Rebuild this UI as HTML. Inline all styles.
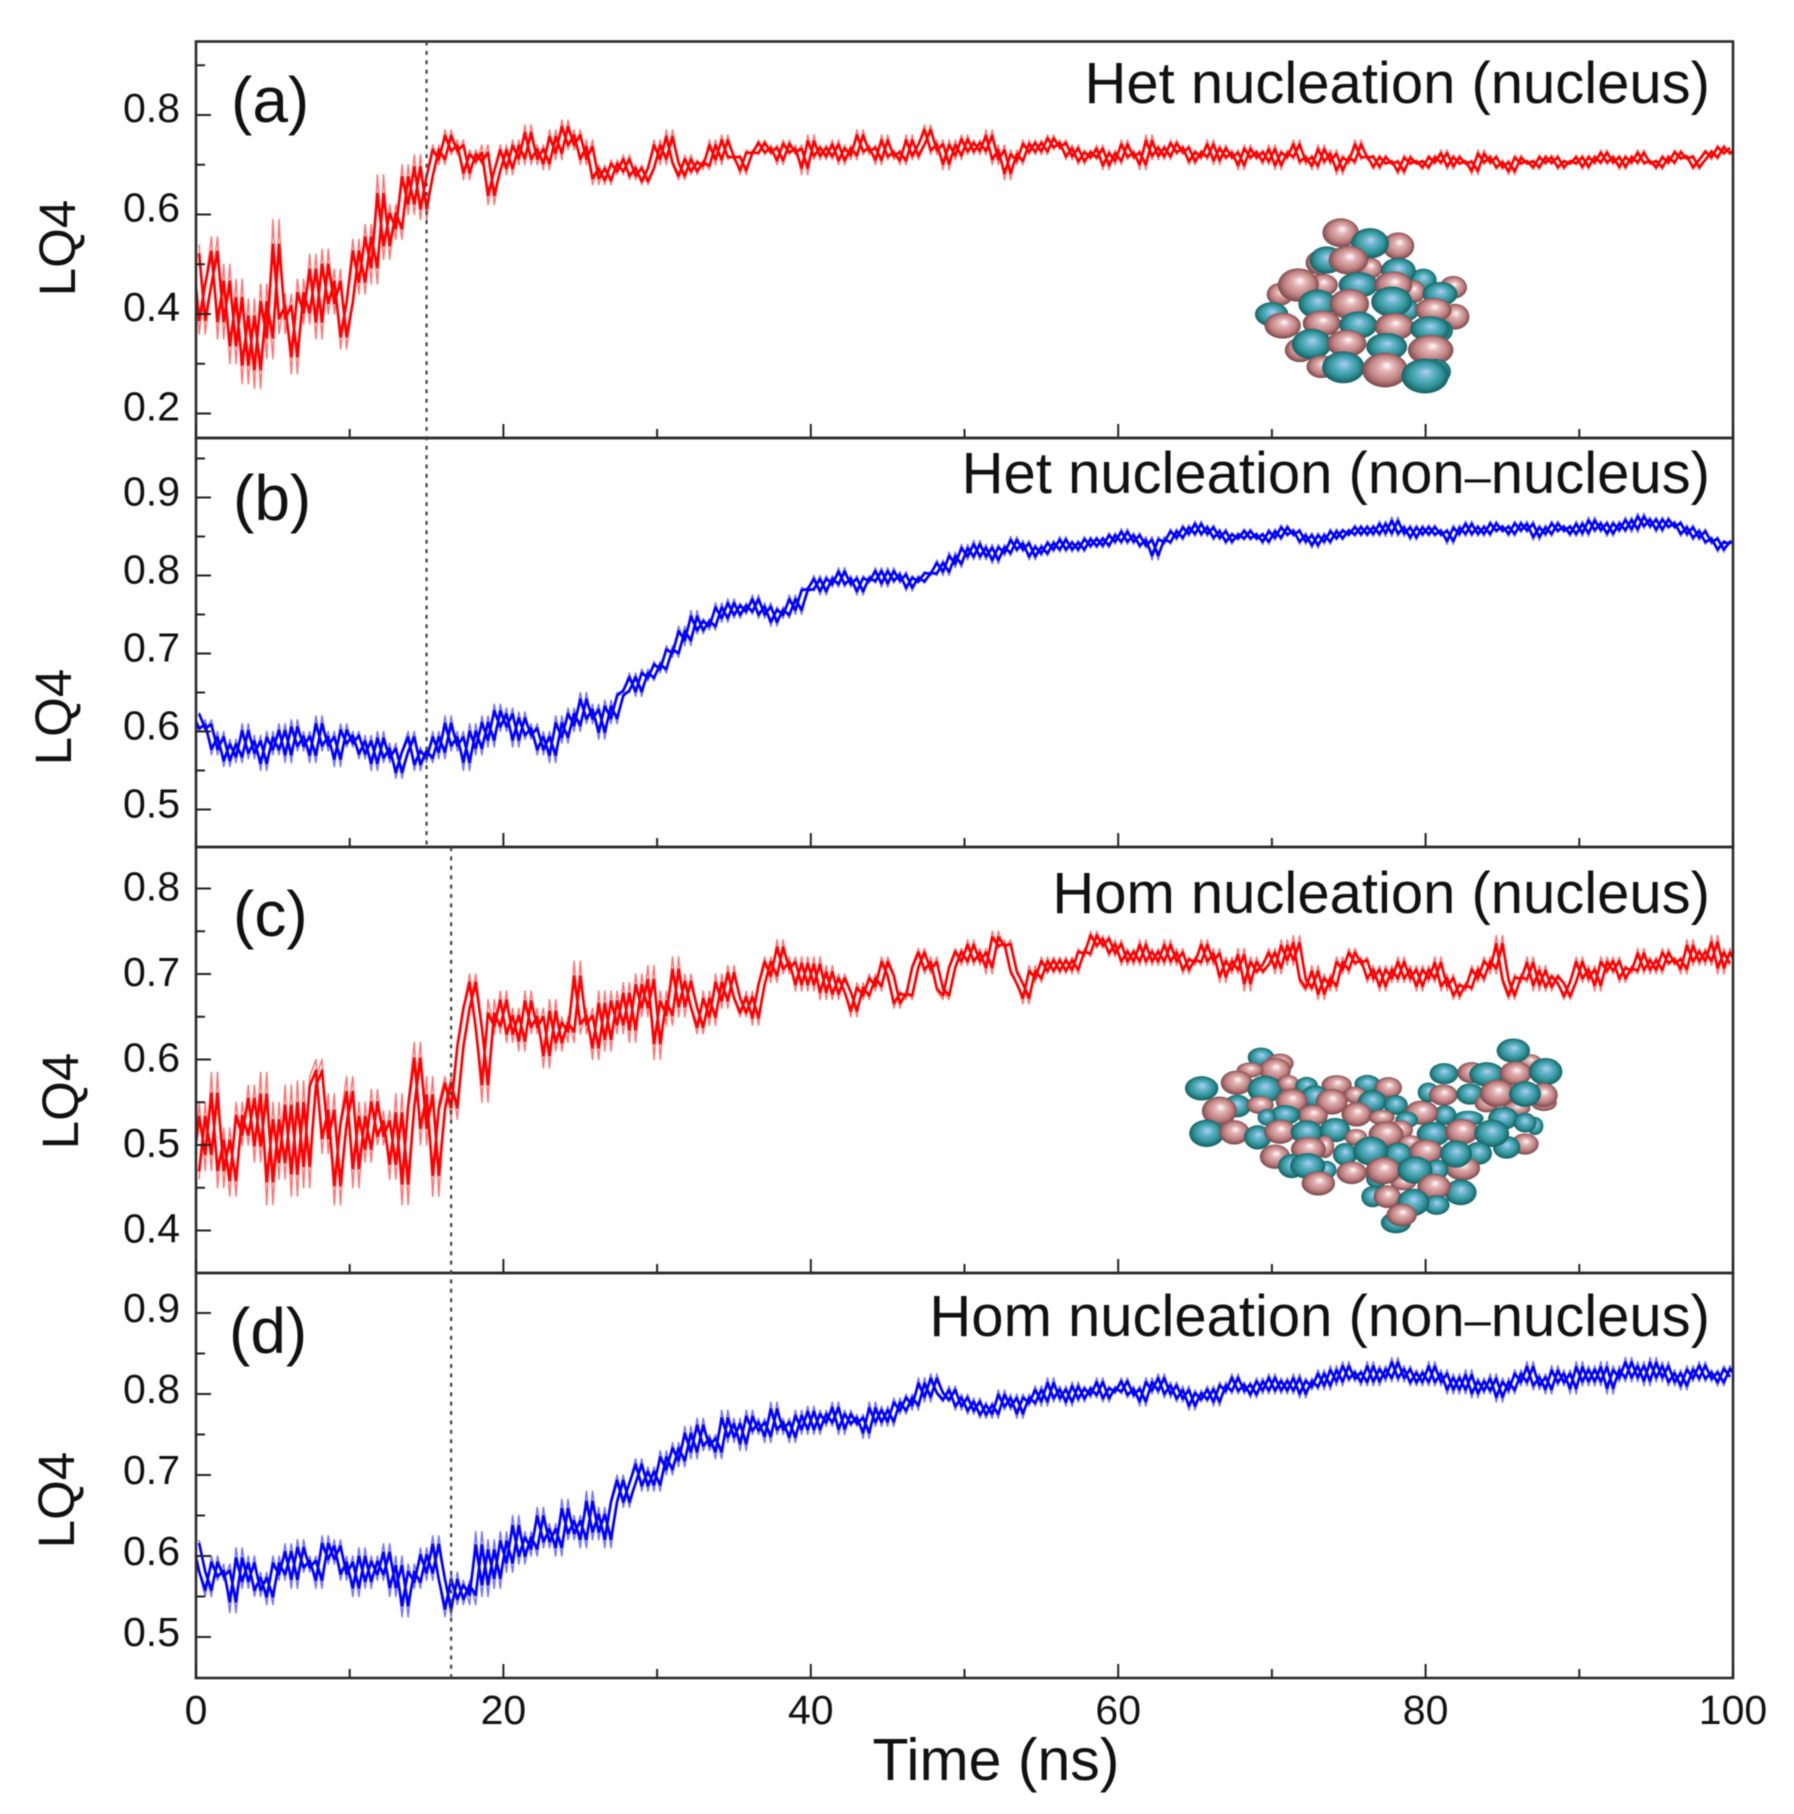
<!DOCTYPE html>
<html lang="en">
<head>
<meta charset="utf-8">
<title>LQ4 vs Time</title>
<style>
html,body{margin:0;padding:0;background:#fff;width:1794px;height:1814px;overflow:hidden}
svg{display:block;filter:blur(.45px)}
text{font-family:"Liberation Sans",Arial,sans-serif;fill:#111}
</style>
</head>
<body>
<svg id="chart" xmlns="http://www.w3.org/2000/svg" width="1794" height="1814" viewBox="0 0 1794 1814">
<defs>
<radialGradient id="teal-ball" cx="50%" cy="50%" r="55%" fx="52%" fy="38%">
<stop offset="0" stop-color="#b4cdf5"/><stop offset=".3" stop-color="#63b4c8"/><stop offset=".65" stop-color="#2f9297"/><stop offset="1" stop-color="#0d4f52"/>
</radialGradient>
<radialGradient id="pink-ball" cx="50%" cy="50%" r="55%" fx="55%" fy="36%">
<stop offset="0" stop-color="#ffffff"/><stop offset=".28" stop-color="#e2b4b4"/><stop offset=".65" stop-color="#bf7f80"/><stop offset="1" stop-color="#64393b"/>
</radialGradient>
</defs>
</svg>
<script>
// ---------- data ----------
const hetNucleusValues = [
.54,.36,.46,.555,.35,.50,.30,.47,.26,.43,.25,.46,.31,.59,.36,.44,.28,.47,.38,.52,.35,.53,.40,.49,.33,
.42,.55,.44,.58,.46,.68,.51,.62,.55,.70,.60,.72,.59,.68,.74,.70,.77,.72,.75,.67,.73,.70,.74,.62,.69,
.74,.68,.75,.70,.78,.70,.74,.69,.77,.71,.79,.73,.77,.70,.75,.66,.70,.66,.71,.68,.72,.67,.70,.66,.69,
.75,.70,.77,.70,.67,.72,.68,.71,.69,.75,.70,.76,.71,.72,.68,.73,.72,.75,.72,.74,.70,.75,.72,.74,.68,
.76,.71,.74,.71,.75,.70,.74,.71,.77,.72,.74,.70,.76,.71,.73,.70,.76,.71,.74,.78,.72,.75,.69,.75,.71,
.76,.72,.75,.72,.77,.70,.74,.67,.73,.70,.75,.72,.75,.72,.76,.73,.75,.71,.74,.70,.73,.71,.74,.69,.73,
.70,.75,.71,.73,.69,.76,.71,.74,.71,.75,.72,.74,.70,.73,.71,.75,.70,.74,.71,.73,.69,.74,.71,.73,.70,
.74,.69,.73,.71,.75,.70,.72,.69,.74,.70,.73,.68,.72,.70,.75,.71,.72,.69,.72,.70,.71,.68,.72,.70,.71,
.69,.72,.70,.73,.69,.72,.70,.71,.68,.73,.70,.72,.69,.71,.68,.72,.70,.71,.69,.72,.70,.72,.69,.71,.70,
.72,.69,.72,.70,.73,.70,.72,.69,.72,.70,.73,.70,.71,.69,.72,.70,.73,.71,.72,.69,.71,.73,.71,.74,.72,.735];
const hetNonNucleusValues = [
.625,.60,.615,.57,.60,.555,.59,.56,.61,.565,.595,.55,.60,.57,.61,.56,.615,.575,.60,.56,.62,.575,.60,.555,.61,
.58,.60,.565,.595,.55,.60,.56,.585,.54,.575,.60,.55,.58,.56,.60,.565,.62,.575,.60,.55,.61,.57,.62,.58,.635,
.60,.63,.58,.625,.59,.61,.57,.60,.56,.62,.585,.63,.60,.65,.61,.635,.59,.64,.61,.65,.65,.675,.645,.68,.665,
.69,.675,.71,.695,.735,.71,.755,.725,.745,.73,.765,.74,.77,.745,.765,.75,.775,.745,.765,.735,.76,.745,.775,.75,.785,
.78,.80,.775,.80,.785,.81,.785,.80,.775,.80,.79,.81,.785,.81,.79,.805,.78,.80,.79,.805,.80,.82,.80,.83,.81,
.84,.82,.845,.82,.84,.815,.84,.825,.85,.83,.845,.82,.84,.825,.845,.83,.85,.83,.845,.83,.85,.835,.85,.835,.855,
.84,.86,.84,.855,.835,.85,.82,.85,.84,.86,.845,.865,.85,.87,.85,.865,.845,.86,.84,.855,.845,.86,.845,.855,.84,
.86,.845,.865,.85,.86,.84,.855,.835,.855,.84,.86,.845,.86,.85,.865,.85,.865,.85,.87,.85,.875,.85,.865,.845,.865,
.85,.865,.85,.86,.84,.865,.85,.87,.85,.865,.85,.87,.855,.865,.85,.87,.855,.87,.845,.865,.85,.87,.855,.865,.85,
.87,.85,.875,.855,.87,.85,.87,.855,.875,.855,.88,.86,.875,.855,.875,.86,.87,.85,.865,.845,.86,.84,.85,.83,.845,.84];
const homNucleusValues = [
.46,.55,.47,.585,.45,.52,.44,.55,.50,.57,.48,.585,.43,.55,.46,.57,.44,.575,.45,.58,.60,.49,.56,.43,.53,
.58,.45,.55,.48,.565,.50,.54,.46,.56,.43,.55,.62,.50,.58,.44,.55,.58,.53,.62,.66,.70,.64,.55,.67,.63,
.68,.62,.66,.61,.68,.63,.66,.59,.67,.61,.65,.62,.715,.63,.66,.60,.68,.61,.68,.63,.69,.62,.70,.65,.71,
.60,.68,.64,.72,.65,.70,.66,.63,.68,.64,.70,.66,.71,.67,.65,.68,.64,.69,.72,.69,.74,.70,.72,.68,.72,
.68,.72,.67,.71,.67,.70,.68,.65,.69,.67,.70,.68,.72,.70,.66,.68,.67,.71,.73,.70,.72,.68,.67,.71,.73,
.71,.74,.71,.73,.70,.75,.73,.74,.70,.69,.665,.71,.69,.72,.70,.72,.70,.72,.70,.73,.72,.75,.73,.745,.72,
.74,.71,.73,.71,.74,.71,.73,.71,.74,.71,.73,.70,.72,.71,.74,.71,.73,.69,.72,.70,.73,.68,.72,.70,.71,
.73,.70,.74,.71,.745,.69,.68,.71,.67,.70,.68,.72,.70,.73,.71,.72,.69,.71,.68,.71,.69,.72,.69,.71,.68,
.71,.69,.72,.68,.70,.67,.69,.68,.71,.69,.72,.70,.745,.69,.67,.70,.69,.72,.68,.71,.68,.70,.69,.67,.69,
.72,.69,.71,.68,.72,.70,.72,.69,.71,.70,.73,.70,.72,.70,.73,.71,.72,.70,.74,.71,.73,.71,.745,.70,.73,.71];
const homNonNucleusValues = [
.62,.58,.55,.60,.57,.59,.53,.61,.56,.60,.55,.58,.54,.60,.57,.615,.56,.62,.58,.60,.56,.625,.59,.62,.57,
.60,.55,.61,.56,.60,.57,.615,.55,.60,.525,.59,.56,.61,.57,.625,.57,.525,.58,.54,.57,.54,.63,.55,.62,.56,
.63,.58,.65,.59,.63,.60,.66,.61,.64,.60,.67,.62,.65,.61,.68,.62,.66,.61,.67,.70,.66,.69,.72,.68,.71,
.68,.73,.70,.74,.71,.76,.72,.77,.73,.75,.72,.78,.74,.77,.73,.78,.75,.77,.74,.79,.75,.77,.74,.78,.75,
.785,.75,.78,.76,.79,.75,.78,.76,.775,.745,.79,.76,.785,.76,.795,.775,.80,.78,.82,.79,.825,.80,.79,.81,.78,
.80,.775,.795,.77,.79,.77,.805,.78,.80,.77,.80,.785,.81,.785,.82,.79,.81,.785,.815,.79,.81,.795,.82,.79,.81,
.80,.82,.795,.81,.785,.82,.80,.825,.795,.815,.79,.81,.78,.805,.79,.81,.785,.815,.80,.825,.80,.815,.795,.82,.80,
.825,.80,.82,.80,.825,.795,.82,.805,.83,.805,.835,.81,.84,.815,.83,.81,.84,.81,.835,.815,.845,.815,.835,.81,.83,
.81,.84,.81,.83,.80,.825,.80,.83,.795,.82,.80,.825,.79,.82,.80,.83,.81,.84,.805,.825,.80,.835,.81,.83,.80,
.84,.81,.835,.81,.84,.80,.835,.815,.845,.815,.84,.81,.845,.815,.84,.81,.83,.805,.835,.815,.84,.815,.83,.81,.835,.82];

const xMajorTicks = [0,20,40,60,80,100];
const xMinorTicks = [10,30,50,70,90];
const aMajorTicks = [.8,.6,.4,.2];
const aMinorTicks = [.9,.7,.5,.3];
const bMajorTicks = [.9,.8,.7,.6,.5];
const bMinorTicks = [.95,.85,.75,.65,.55];
const cMajorTicks = [.8,.7,.6,.5,.4];
const cMinorTicks = [.75,.65,.55,.45];
const dMajorTicks = [.9,.8,.7,.6,.5];
const dMinorTicks = [.85,.75,.65,.55];
const hetOnsetTime = 15;
const homOnsetTime = 16.6;

// inset molecules: kind, cx, cy, rx, ry (in crop pixels of the inset)
const insetAtomsA = [
['p',240,343,35,30],['t',215,403,44,32],['p',368,315,40,30],['p',300,510,40,32],['t',670,300,35,30],['p',760,322,36,30],
['p',422,158,48,38],['p',595,198,42,36],['t',510,190,50,40],['p',360,248,38,32],['t',380,240,45,36],['p',510,265,32,28],['p',445,240,52,38],
['t',595,272,46,34],['t',475,315,52,34],['p',640,335,32,30],['p',580,315,50,36],['t',720,342,46,32],['p',765,410,38,34],
['p',295,315,54,44],['t',352,372,50,38],['p',448,372,52,40],['t',625,390,28,28],['t',575,365,54,40],['p',700,390,48,32],
['p',365,430,50,34],['t',475,435,50,36],['p',583,440,52,36],['p',248,437,48,34],['t',720,452,34,30],['t',690,447,52,34],
['t',335,492,52,40],['p',440,490,52,36],['t',560,500,54,36],['p',365,560,40,30],['t',430,562,56,42],['p',692,510,60,40],
['p',555,570,60,46],['t',705,575,42,34],['t',675,588,62,46]];
const insetAtomsC = [
['t',333,172,35,26],['p',390,190,36,26],['p',375,210,42,32],['p',300,210,35,20],['t',155,265,44,32],['p',260,248,42,32],['t',345,268,46,36],['p',415,250,28,22],
['t',470,258,30,24],['p',560,255,40,26],['t',652,252,34,24],['p',715,263,36,28],['t',262,318,36,30],['p',208,333,46,38],['p',330,315,36,24],
['t',495,290,36,30],['p',425,303,42,32],['p',615,285,30,22],['p',545,305,42,34],['t',667,305,38,30],['t',737,315,32,26],['p',620,343,40,32],
['p',488,346,40,28],['t',405,345,40,26],['t',350,352,24,22],['p',695,352,34,20],['t',885,345,30,26],['p',815,338,44,32],
['t',835,277,28,26],['p',880,285,38,28],['t',882,221,38,28],['p',965,218,38,28],['t',960,282,36,28],['p',1140,185,30,20],['t',1090,152,44,32],
['t',1010,223,46,32],['p',1097,220,42,32],['t',1187,215,44,36],['p',1182,308,34,22],['p',1180,285,38,32],['p',1010,310,32,24],['p',1100,325,36,20],
['p',1042,280,46,36],['t',1125,282,42,34],['t',955,355,40,20],['t',1060,355,40,30],['t',1155,378,22,24],['t',1125,368,30,26],['p',1125,432,36,28],['t',1070,442,36,30],
['t',170,400,46,36],['p',253,397,40,32],['t',323,412,36,32],['p',390,395,42,32],['t',470,397,42,32],['t',555,390,40,32],['p',618,412,30,22],
['t',770,360,30,22],['p',750,390,34,26],['p',708,403,46,34],['t',850,402,44,32],['p',935,395,44,34],['t',1025,400,46,36],['p',780,428,30,20],
['p',375,470,40,32],['p',525,440,24,30],['p',475,447,46,32],['t',425,498,36,32],['t',530,510,26,24],['t',473,498,46,34],['p',505,550,44,32],
['t',585,463,32,30],['p',605,518,40,30],['t',985,460,36,30],['p',938,505,46,32],['t',745,462,36,30],['t',662,453,46,38],['p',828,455,44,32],['t',918,462,42,36],
['t',680,535,28,26],['p',760,548,34,20],['p',700,512,46,36],['t',860,510,30,28],['t',795,510,46,36],['t',932,577,42,34],['p',852,560,44,34],
['t',668,590,30,28],['p',712,590,36,30],['t',860,615,34,26],['t',790,607,42,36],['t',738,668,40,28],['p',755,645,40,30]];

// ---------- layout ----------
const svg = document.getElementById('chart');
const NS = 'http://www.w3.org/2000/svg';
const plotLeft = 196, plotRight = 1733;
const xOf = t => plotLeft + t * (plotRight - plotLeft) / 100;

function mk(tag, attrs, parent){
  const el = document.createElementNS(NS, tag);
  for (const k in attrs) el.setAttribute(k, attrs[k]);
  (parent || svg).appendChild(el);
  return el;
}

const panels = [
 {key:'a',top:41.5,bottom:438,refV:.8,refY:115,perUnit:497.5,major:aMajorTicks,minor:aMinorTicks,values:hetNucleusValues,color:'#ff0000',
  title:['Het nucleation (nucleus)'],titleY:103,tag:'(a)',tagX:231,tagY:122,lqX:75,lqY:248,labelOff:7},
 {key:'b',top:438,bottom:847,refV:.6,refY:731.5,perUnit:780,major:bMajorTicks,minor:bMinorTicks,values:hetNonNucleusValues,color:'#0000ff',
  title:['Het nucleation (non','nucleus)'],titleY:493,tag:'(b)',tagX:233,tagY:520,lqX:71,lqY:717,labelOff:8},
 {key:'c',top:847,bottom:1273,refV:.5,refY:1145,perUnit:855,major:cMajorTicks,minor:cMinorTicks,values:homNucleusValues,color:'#ff0000',
  title:['Hom nucleation (nucleus)'],titleY:913,tag:'(c)',tagX:233,tagY:936,lqX:78,lqY:1101,labelOff:12},
 {key:'d',top:1273,bottom:1678,refV:.5,refY:1637,perUnit:810,major:dMajorTicks,minor:dMinorTicks,values:homNonNucleusValues,color:'#0000ff',
  title:['Hom nucleation (non','nucleus)'],titleY:1336,tag:'(d)',tagX:229,tagY:1353,lqX:74,lqY:1500,labelOff:9}
];

// series first so the axes sit on top
const seriesGroup = mk('g', {});


panels.forEach(p => {
  const yOf = v => p.refY - (v - p.refV) * p.perUnit;
  p.yOf = yOf;
  const clip = mk('clipPath', {id:'clip-' + p.key}, svg.querySelector('defs'));
  mk('rect', {x:plotLeft, y:p.top, width:plotRight - plotLeft, height:p.bottom - p.top}, clip);
  const n = p.values.length;
  const step = 100 / (n - 1);
  // Two passes one sample apart cross in opposite phase and close into the dense noisy band of the original
  const traceOf = (vals, tShift) => vals.map((v, i) => (i ? 'L' : 'M') + xOf(i * step + tShift).toFixed(1) + ' ' + yOf(v).toFixed(1)).join('');
  const core = p.values.map((v, i) => {
    const mean = (p.values[Math.max(i - 1, 0)] + 2 * v + p.values[Math.min(i + 1, n - 1)]) / 4;
    return .6 * v + .4 * mean;
  });
  const clipRef = 'url(#clip-' + p.key + ')';
  const spikes = mk('path', {d:traceOf(p.values, step / 2) + traceOf(p.values, -step / 2), fill:'none', stroke:p.color, 'stroke-width':1.5, 'stroke-opacity':.55, 'stroke-linejoin':'round', 'clip-path':clipRef}, seriesGroup);
  
  
  const line = mk('path', {d:traceOf(core, step / 2) + traceOf(core, -step / 2), fill:'none', stroke:p.color, 'stroke-width':2.7, 'stroke-linejoin':'round', 'clip-path':clipRef}, seriesGroup);
  
  
});

// inset molecules
function drawInset(atoms, ox, oy, name){
  const g = mk('g', {transform:'translate(' + ox + ' ' + oy + ') scale(' + (1/3) + ')'});
  
  
  atoms.forEach(a => {
    const e = mk('ellipse', {cx:a[1], cy:a[2], rx:a[3] * 1.14, ry:a[4] * 1.14, fill:a[0] === 't' ? 'url(#teal-ball)' : 'url(#pink-ball)'}, g);
    
    
  });
}
drawInset(insetAtomsA, 1200, 180, 'nucleus-inset-het');
drawInset(insetAtomsC, 1150, 1000, 'nucleus-inset-hom');

// axes
panels.forEach(p => {
  const g = mk('g', {});
  
  
  const frame = mk('rect', {x:plotLeft, y:p.top, width:plotRight - plotLeft, height:p.bottom - p.top, fill:'none', stroke:'#2b2b2b', 'stroke-width':2.6}, g);
  
  

  p.major.forEach(v => {
    const y = p.yOf(v);
    const tick = mk('line', {x1:plotLeft, x2:plotLeft + 15, y1:y, y2:y, stroke:'#222', 'stroke-width':2}, g);
    
    
    const lab = mk('text', {x:180, y:y + p.labelOff, 'text-anchor':'end', 'font-size':41}, g);
    lab.textContent = v.toFixed(1);
    
    
  });
  p.minor.forEach(v => {
    const y = p.yOf(v);
    const tick = mk('line', {x1:plotLeft, x2:plotLeft + 9, y1:y, y2:y, stroke:'#222', 'stroke-width':2}, g);
    
    
  });
  xMajorTicks.forEach(t => {
    const tick = mk('line', {x1:xOf(t), x2:xOf(t), y1:p.bottom, y2:p.bottom - 14, stroke:'#222', 'stroke-width':2}, g);
    
    
  });
  xMinorTicks.forEach(t => {
    const tick = mk('line', {x1:xOf(t), x2:xOf(t), y1:p.bottom, y2:p.bottom - 9, stroke:'#222', 'stroke-width':2}, g);
    
    
  });

  const ttl = mk('text', {x:1710, y:p.titleY, 'text-anchor':'end', 'font-size':58}, g);
  ttl.appendChild(document.createTextNode(p.title[0]));
  if (p.title[1]) {
    const dash = mk('tspan', {'font-size':47}, ttl);
    dash.textContent = '\u2013';
    ttl.appendChild(document.createTextNode(p.title[1]));
  }
  
  

  const tg = mk('text', {x:p.tagX, y:p.tagY, 'font-size':64}, g);
  tg.textContent = p.tag;
  
  

  const lq = mk('text', {x:0, y:0, 'font-size':51, 'text-anchor':'middle', transform:'translate(' + p.lqX + ' ' + p.lqY + ') rotate(-90)'}, g);
  lq.textContent = 'LQ4';
  
  
});

// onset guides
const onsetA = mk('line', {x1:xOf(hetOnsetTime), x2:xOf(hetOnsetTime), y1:41.5, y2:847, stroke:'#444', 'stroke-width':2.2, 'stroke-dasharray':'4 5.4'});


const onsetB = mk('line', {x1:xOf(homOnsetTime), x2:xOf(homOnsetTime), y1:847, y2:1678, stroke:'#444', 'stroke-width':2.2, 'stroke-dasharray':'4 5.4'});



// x tick labels and title
xMajorTicks.forEach(t => {
  const lab = mk('text', {x:xOf(t), y:1724, 'text-anchor':'middle', 'font-size':41});
  lab.textContent = String(t);
  
  
});
const xTitle = mk('text', {x:996, y:1780, 'text-anchor':'middle', 'font-size':59});
xTitle.textContent = 'Time (ns)';


</script>
</body>
</html>
